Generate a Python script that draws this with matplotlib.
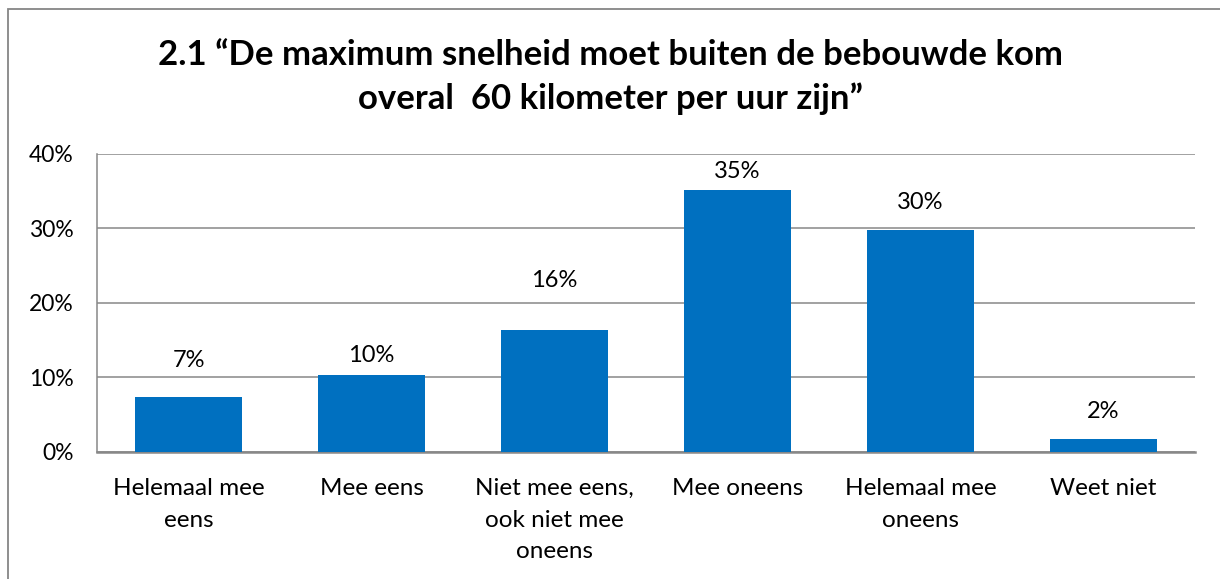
import matplotlib
matplotlib.use("Agg")
import matplotlib.pyplot as plt
from matplotlib.patches import Rectangle
from matplotlib.ticker import FuncFormatter

TITLE = "2.1 \u201cDe maximum snelheid moet buiten de bebouwde kom\noveral  60 kilometer per uur zijn\u201d"
categories = ["Helemaal mee\neens", "Mee eens", "Niet mee eens,\nook niet mee\noneens",
              "Mee oneens", "Helemaal mee\noneens", "Weet niet"]
values = [7.4, 10.3, 16.4, 35.2, 29.8, 1.7]
value_labels = ["7%", "10%", "16%", "35%", "30%", "2%"]
label_offsets = [36, 20, 49, 18, 27, 28]  # pixels above the bar top, as placed in the original
yticks = [0, 10, 20, 30, 40]

BLUE = "#0070C0"
GRID = "#888888"
plt.rcParams["font.family"] = ["Lato", "DejaVu Sans"]

fig = plt.figure(figsize=(12.2, 5.79), dpi=100)
fig.patches.append(Rectangle((8 / 1220, -0.1), 1.3, 1.1 - 9 / 579, transform=fig.transFigure,
                             fill=False, edgecolor="#868686", linewidth=1.3))

ax = fig.add_axes([97 / 1220, 1 - 451.7 / 579, 1098 / 1220, (451.7 - 154) / 579])
x = range(len(categories))
ax.bar(x, values, width=0.583, color=BLUE, zorder=3)

for i, (v, lab, off) in enumerate(zip(values, value_labels, label_offsets)):
    ax.annotate(lab, (i, v), xytext=(0, off * 0.72), textcoords="offset points",
                ha="center", va="center", fontsize=17, color="#000000")

ax.set_xlim(-0.5, len(categories) - 0.5)
ax.set_ylim(0, 40)
ax.set_yticks(yticks)
ax.yaxis.set_major_formatter(FuncFormatter(lambda v, p: f"{v:.0f}%"))
ax.set_xticks(list(x))
ax.set_xticklabels(categories, fontsize=17.5, linespacing=1.62, va="top")
ax.tick_params(axis="both", length=0)
ax.tick_params(axis="y", labelsize=16.5, pad=17)
ax.tick_params(axis="x", pad=19)
ax.grid(axis="y", color=GRID, linewidth=1.1, zorder=0)
for side in ["top", "right"]:
    ax.spines[side].set_visible(False)
ax.spines["left"].set_color(GRID)
ax.spines["bottom"].set_color(GRID)
ax.spines["left"].set_linewidth(1.1)
ax.spines["bottom"].set_linewidth(1.8)

fig.text(0.5, 1 - 77 / 579, TITLE, ha="center", va="center", fontsize=25,
         fontweight="bold", linespacing=1.4)

fig.savefig("out.png", dpi=100)
